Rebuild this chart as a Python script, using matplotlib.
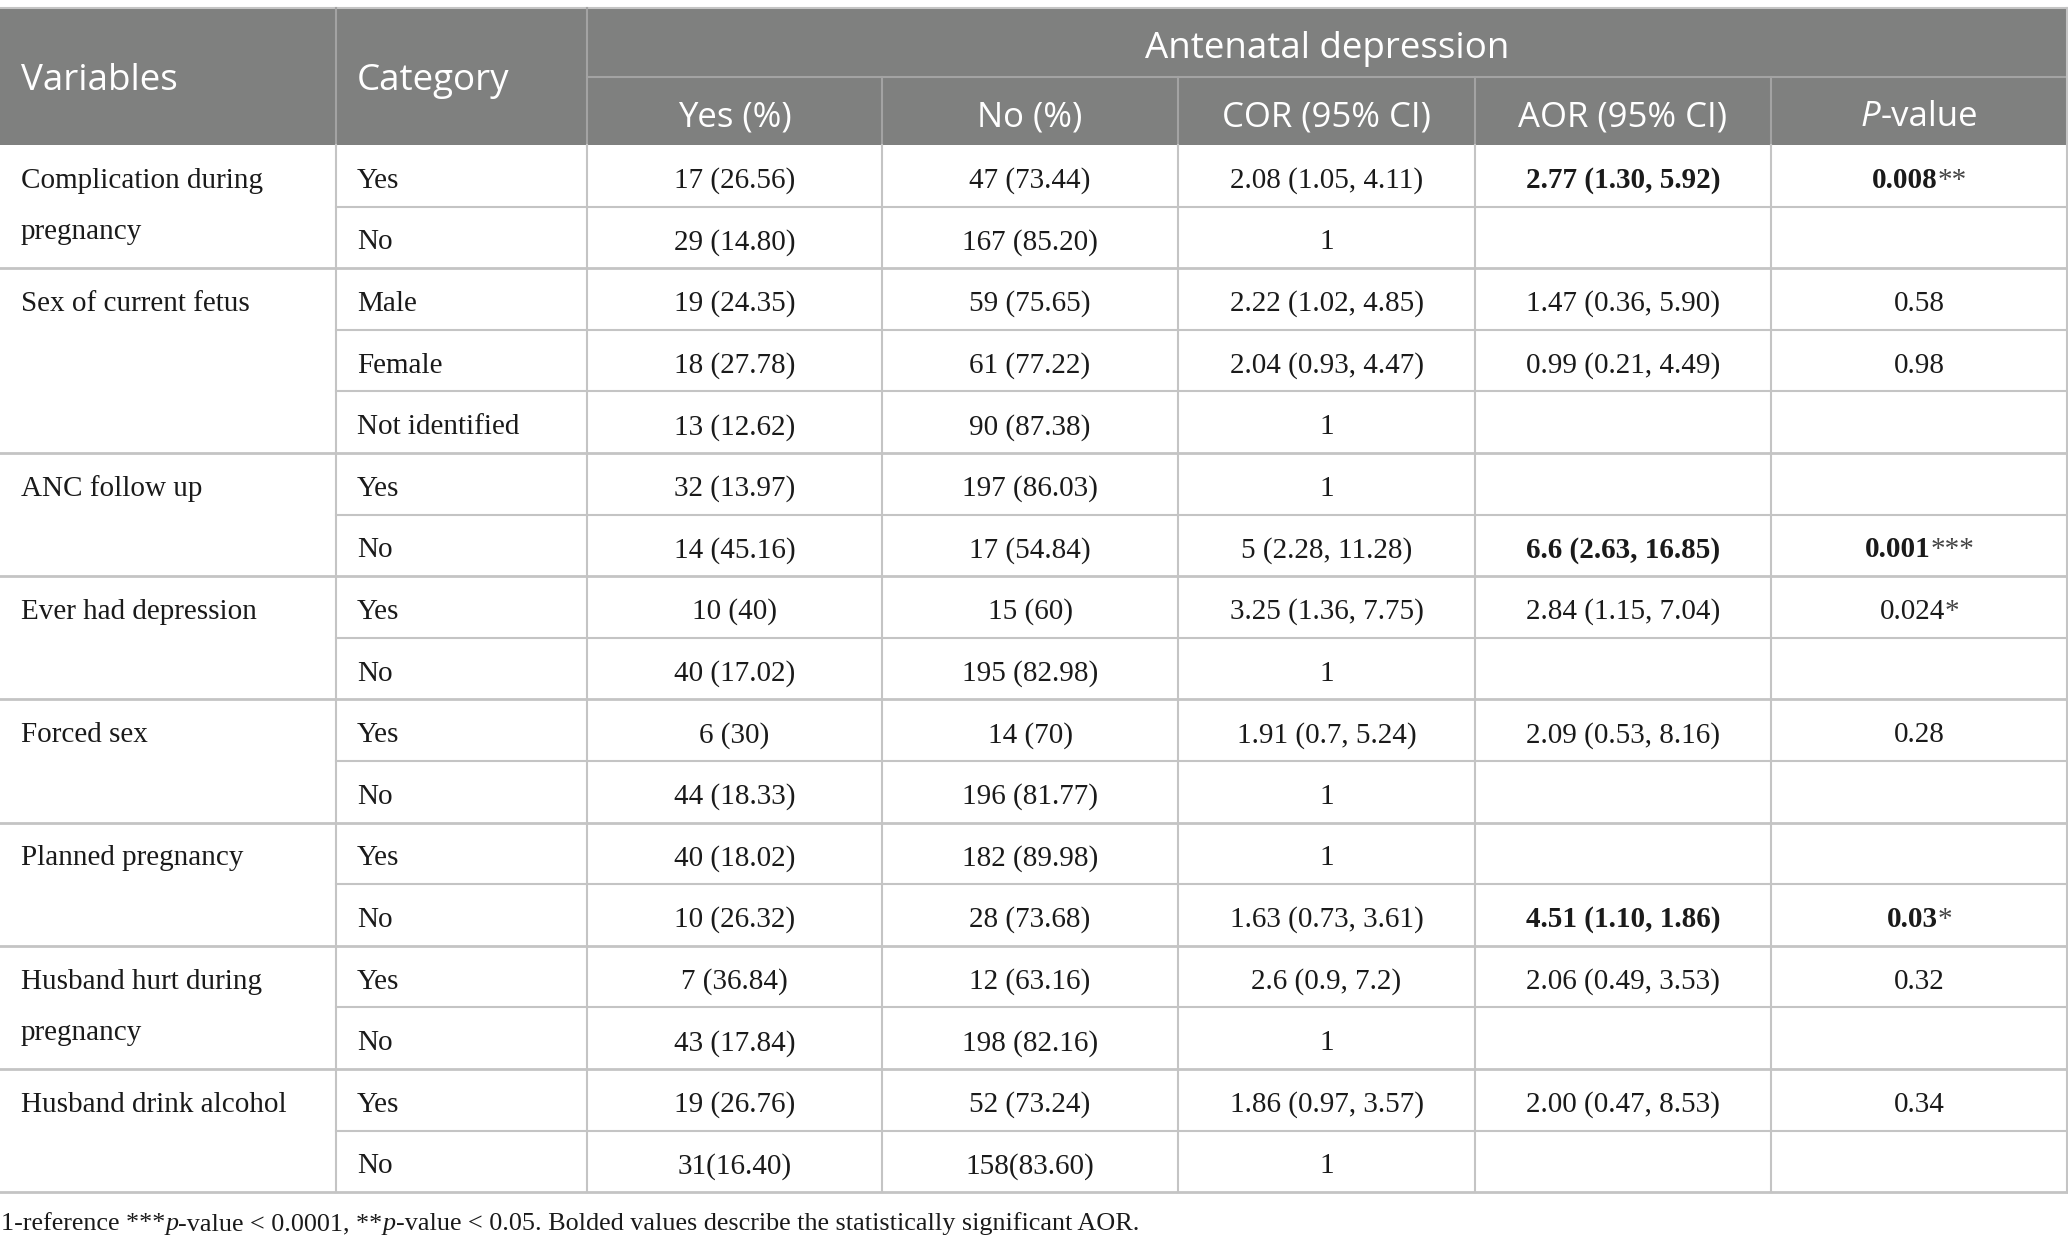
import matplotlib
matplotlib.use("Agg")
import matplotlib.pyplot as plt

# ---------------- data ----------------
variables = ["Complication during\npregnancy", "Sex of current fetus", "ANC follow up",
             "Ever had depression", "Forced sex", "Planned pregnancy",
             "Husband hurt during\npregnancy", "Husband drink alcohol"]
group_sizes = [2, 3, 2, 2, 2, 2, 2, 2]
categories = ["Yes", "No", "Male", "Female", "Not identified", "Yes", "No", "Yes", "No",
              "Yes", "No", "Yes", "No", "Yes", "No", "Yes", "No"]
yes_pct = ["17 (26.56)", "29 (14.80)", "19 (24.35)", "18 (27.78)", "13 (12.62)",
           "32 (13.97)", "14 (45.16)", "10 (40)", "40 (17.02)", "6 (30)", "44 (18.33)",
           "40 (18.02)", "10 (26.32)", "7 (36.84)", "43 (17.84)", "19 (26.76)", "31(16.40)"]
no_pct = ["47 (73.44)", "167 (85.20)", "59 (75.65)", "61 (77.22)", "90 (87.38)",
          "197 (86.03)", "17 (54.84)", "15 (60)", "195 (82.98)", "14 (70)", "196 (81.77)",
          "182 (89.98)", "28 (73.68)", "12 (63.16)", "198 (82.16)", "52 (73.24)", "158(83.60)"]
cor = ["2.08 (1.05, 4.11)", "1", "2.22 (1.02, 4.85)", "2.04 (0.93, 4.47)", "1",
       "1", "5 (2.28, 11.28)", "3.25 (1.36, 7.75)", "1", "1.91 (0.7, 5.24)", "1",
       "1", "1.63 (0.73, 3.61)", "2.6 (0.9, 7.2)", "1", "1.86 (0.97, 3.57)", "1"]
aor = ["2.77 (1.30, 5.92)", "", "1.47 (0.36, 5.90)", "0.99 (0.21, 4.49)", "",
       "", "6.6 (2.63, 16.85)", "2.84 (1.15, 7.04)", "", "2.09 (0.53, 8.16)", "",
       "", "4.51 (1.10, 1.86)", "2.06 (0.49, 3.53)", "", "2.00 (0.47, 8.53)", ""]
p_values = ["0.008", "", "0.58", "0.98", "", "", "0.001", "0.024", "", "0.28", "",
            "", "0.03", "0.32", "", "0.34", ""]
p_stars = ["**", "", "", "", "", "", "***", "*", "", "", "", "", "*", "", "", "", ""]
bold_rows = [0, 6, 12]

sub_headers = ["Yes (%)", "No (%)", "COR (95% CI)", "AOR (95% CI)"]

# ---------------- layout (pixels) ----------------
W, H = 2068, 1250
col_x = [0, 336, 587, 882, 1178, 1475, 1771, 2068]
head_top, head_mid, head_bot = 8, 77, 145
row_h = 61.6
n_rows = len(categories)

HEAD_BG = "#7f807f"
HEAD_LINE = "#a3a3a3"
GRID = "#c4c4c4"
TXT = "#1a1a1a"
SERIF = "Liberation Serif"
SANS = "Open Sans"
FS = 21
HFS_TOP = 26.5
HFS = 25

fig = plt.figure(figsize=(W / 100, H / 100), dpi=100)
ax = fig.add_axes([0, 0, 1, 1])
ax.set_xlim(0, W)
ax.set_ylim(H, 0)
ax.axis("off")
fig.canvas.draw()
renderer = fig.canvas.get_renderer()


def draw_segments(segments, x, y, ha="left", **common):
    """segments: list of (text, dict). Draw consecutively on a shared baseline."""
    arts = []
    widths = []
    for s, kw in segments:
        t = ax.text(0, y, s, va="baseline", ha="left", **common, **kw)
        bb = t.get_window_extent(renderer=renderer)
        arts.append(t)
        widths.append(bb.width)
    total = sum(widths)
    start = x - total / 2 if ha == "center" else x
    cur = start
    for t, w in zip(arts, widths):
        t.set_x(cur)
        cur += w


# header background
ax.add_patch(plt.Rectangle((0, head_top), W, head_bot - head_top, color=HEAD_BG, lw=0, zorder=0))
ax.plot([0, W], [head_top, head_top], color=GRID, lw=1.5)
ax.plot([col_x[2], W], [head_mid, head_mid], color=HEAD_LINE, lw=1.5)
for i, x in enumerate(col_x[1:-1], start=1):
    y0 = head_top if i <= 2 else head_mid
    ax.plot([x, x], [y0, head_bot], color=HEAD_LINE, lw=1.5)

# header texts
ax.text(21, 90, "Variables", color="white", fontsize=HFS_TOP, family=SANS, va="baseline")
ax.text(col_x[1] + 21, 90, "Category", color="white", fontsize=HFS_TOP, family=SANS, va="baseline")
ax.text((col_x[2] + W) / 2, 58, "Antenatal depression", color="white", fontsize=HFS_TOP,
        family=SANS, va="baseline", ha="center")
for j, lab in enumerate(sub_headers):
    cx = (col_x[2 + j] + col_x[3 + j]) / 2
    ax.text(cx, 126, lab, color="white", fontsize=HFS, family=SANS, va="baseline", ha="center")
draw_segments([("P", dict(style="italic")), ("-value", {})],
              (col_x[6] + col_x[7]) / 2, 126, ha="center",
              color="white", fontsize=HFS, family=SANS)

# body
row_tops = [head_bot + i * row_h for i in range(n_rows + 1)]
r = 0
group_starts = []
for g, size in enumerate(group_sizes):
    group_starts.append(r)
    r += size

# horizontal lines
for i in range(1, n_rows + 1):
    y = row_tops[i]
    if i in group_starts or i == n_rows:
        ax.plot([0, W], [y, y], color=GRID, lw=2.0)
    else:
        ax.plot([col_x[1], W], [y, y], color=GRID, lw=1.5)
# vertical lines
for x in col_x[1:]:
    ax.plot([x, x], [head_bot, row_tops[-1]], color=GRID, lw=1.5)
ax.plot([W - 1, W - 1], [head_top, row_tops[-1]], color=GRID, lw=1.5)

# variable names
for g, start in enumerate(group_starts):
    base = row_tops[start] + row_h / 2 + 12
    for k, line in enumerate(variables[g].split("\n")):
        ax.text(21, base + k * 51, line, fontsize=FS, family=SERIF, color=TXT, va="baseline")

# row cells
for i in range(n_rows):
    base = row_tops[i] + row_h / 2 + 12
    bold = "bold" if i in bold_rows else "normal"
    ax.text(col_x[1] + 21, base, categories[i], fontsize=FS, family=SERIF, color=TXT, va="baseline")
    for j, col in enumerate([yes_pct, no_pct, cor]):
        cx = (col_x[2 + j] + col_x[3 + j]) / 2
        ax.text(cx, base, col[i], fontsize=FS, family=SERIF, color=TXT, va="baseline", ha="center")
    cx = (col_x[5] + col_x[6]) / 2
    ax.text(cx, base, aor[i], fontsize=FS, family=SERIF, color=TXT, va="baseline",
            ha="center", weight=bold)
    if p_values[i]:
        segs = [(p_values[i], dict(weight=bold, color=TXT))]
        if p_stars[i]:
            segs.append((p_stars[i], dict(color="#444444")))
        draw_segments(segs, (col_x[6] + col_x[7]) / 2, base, ha="center",
                      fontsize=FS, family=SERIF)

# footnote
draw_segments([("1-reference ***", {}), ("p", dict(style="italic")), ("-value < 0.0001, **", {}),
               ("p", dict(style="italic")),
               ("-value < 0.05. Bolded values describe the statistically significant AOR.", {})],
              1, 1230, ha="left", fontsize=18.8, family=SERIF, color=TXT)

fig.savefig("out.png", dpi=100)
